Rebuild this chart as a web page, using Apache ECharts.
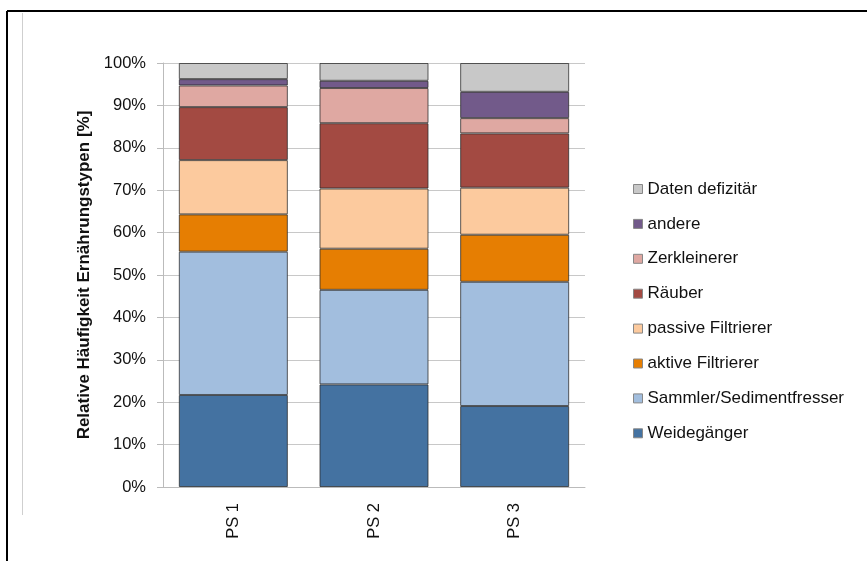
<!DOCTYPE html>
<html><head><meta charset="utf-8">
<script src="https://cdn.jsdelivr.net/npm/echarts@6/dist/echarts.min.js"></script>
<style>html,body{margin:0;padding:0;background:#fff}#c{width:867px;height:561px}</style>
</head><body><div id="c"></div>
<script>
var categories = ['PS 1', 'PS 2', 'PS 3'];
var weidegaenger = [21.7, 24.2, 19.1];
var sammler = [33.8, 22.3, 29.3];
var aktiveFiltrierer = [8.8, 9.7, 11.1];
var passiveFiltrierer = [12.8, 14.2, 11.1];
var raeuber = [12.5, 15.4, 12.8];
var zerkleinerer = [5.1, 8.3, 3.6];
var andere = [1.5, 1.7, 6.2];
var datenDefizitaer = [3.8, 4.2, 6.8];
var yTickLabels = ['0%','10%','20%','30%','40%','50%','60%','70%','80%','90%','100%'];

var seriesDefs = [
  ['Weidegänger', weidegaenger, '#4472A1'],
  ['Sammler/Sedimentfresser', sammler, '#A2BEDE'],
  ['aktive Filtrierer', aktiveFiltrierer, '#E67E02'],
  ['passive Filtrierer', passiveFiltrierer, '#FCCA9E'],
  ['Räuber', raeuber, '#A34A42'],
  ['Zerkleinerer', zerkleinerer, '#DFA8A2'],
  ['andere', andere, '#725A8A'],
  ['Daten defizitär', datenDefizitaer, '#C8C8C8']
];

var chart = echarts.init(document.getElementById('c'));
var font = 'Liberation Sans, Arial, sans-serif';
chart.setOption({
  animation: false,
  textStyle: {fontFamily: font},
  graphic: [
    {type: 'line', shape: {x1: 7, y1: 11, x2: 867, y2: 11}, style: {stroke: '#000', lineWidth: 2}},
    {type: 'line', shape: {x1: 7, y1: 11, x2: 7, y2: 561}, style: {stroke: '#000', lineWidth: 2}},
    {type: 'line', shape: {x1: 22.5, y1: 13, x2: 22.5, y2: 515}, style: {stroke: '#cfcfcf', lineWidth: 1}}
  ],
  grid: {left: 163, top: 63, width: 422, height: 424, containLabel: false},
  legend: {
    orient: 'vertical', left: 628, top: 175,
    data: seriesDefs.map(function(s){return s[0];}).reverse(),
    icon: 'rect', itemWidth: 9, itemHeight: 9, itemGap: 16.9, itemTextGap: 4,
    textStyle: {fontSize: 17, color: '#111', fontFamily: font, lineHeight: 18},
    itemStyle: {borderColor: '#888', borderWidth: 1}
  },
  xAxis: {
    type: 'category', data: categories,
    axisLine: {show: true, lineStyle: {color: '#bbb'}},
    axisTick: {show: false},
    axisLabel: {rotate: 90, margin: 16, fontSize: 16.5, color: '#111', fontFamily: font}
  },
  yAxis: {
    type: 'value', min: 0, max: 100, interval: 10,
    name: 'Relative Häufigkeit Ernährungstypen [%]',
    nameLocation: 'middle', nameGap: 70,
    nameTextStyle: {fontSize: 17, fontWeight: 'bold', color: '#111', fontFamily: font},
    axisLine: {show: true, lineStyle: {color: '#bbb'}},
    axisTick: {show: true, length: 6, lineStyle: {color: '#bbb'}},
    splitLine: {show: true, lineStyle: {color: '#c8c8c8'}},
    axisLabel: {fontSize: 16.5, color: '#111', margin: 17, fontFamily: font,
      formatter: function(v){ return yTickLabels[Math.round(v/10)]; }}
  },
  series: seriesDefs.map(function(s){
    return {
      name: s[0], type: 'bar', stack: 'all', data: s[1],
      barCategoryGap: '22.5%',
      itemStyle: {color: s[2], borderColor: 'rgba(40,40,40,0.75)', borderWidth: 1}
    };
  })
});
</script></body></html>
